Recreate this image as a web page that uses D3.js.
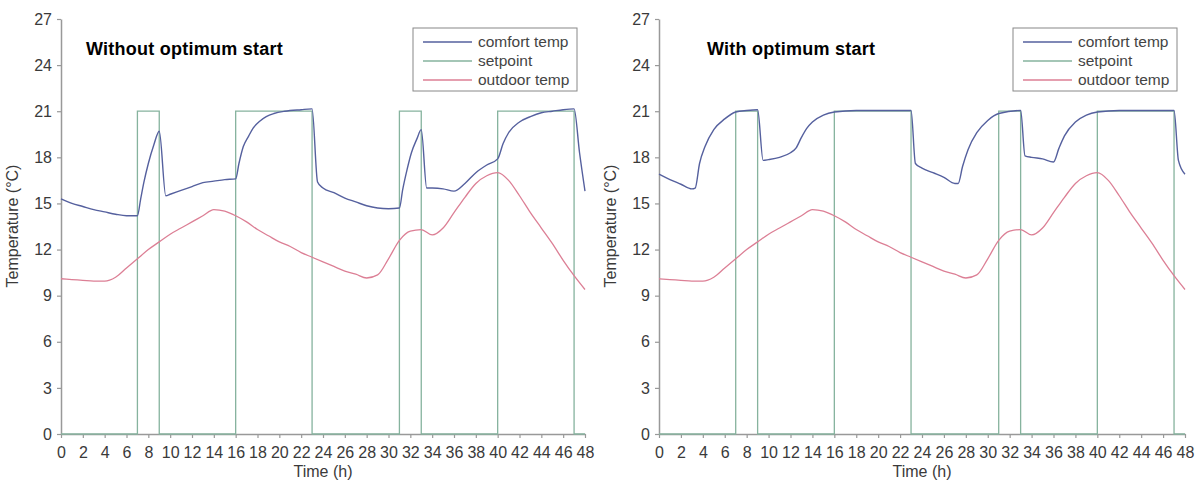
<!doctype html>
<html lang="en">
  <head>
    <meta charset="utf-8">
    <title>Optimum start</title>
    <style>
      body { margin: 0; background: #fff; }
      svg text { font-family: "Liberation Sans", Arial, sans-serif; }
    </style>
  </head>
  <body>
    <div id="chart"></div>
    <script src="https://d3js.org/d3.v7.min.js"></script>
    <script>
    // x ticks (h) and y ticks (°C)
    var timeTicks = [0,2,4,6,8,10,12,14,16,18,20,22,24,26,28,30,32,34,36,38,40,42,44,46,48];
    var tempTicks = [0,3,6,9,12,15,18,21,24,27];

    var seriesNames = ["comfort temp", "setpoint", "outdoor temp"];
    var seriesColors = ["#55609e", "#86b39e", "#dc7f95"];

    // setpoint schedule, same in both runs
    var setpointTime  = [0,7,7,9,9,16,16,23,23,31,31,33,33,40,40,47,47,48];
    var setpointValue = [0,0,21,21,0,0,21,21,0,0,21,21,0,0,21,21,0,0];

    // outdoor temperature, hourly
    var outdoorTime = [0,1,2,3,4,5,6,7,8,9,10,11,12,13,14,15,16,17,18,19,20,21,22,23,24,
                       25,26,27,28,29,30,31,32,33,34,35,36,37,38,39,40,41,42,43,44,45,46,47,48];
    var outdoorTemp = [10.1,10.05,10.0,9.95,9.95,10.2,10.8,11.4,12.0,12.5,13.0,13.4,13.8,14.2,14.6,14.5,14.2,13.8,13.3,12.9,12.5,12.2,11.8,11.5,11.2,
                       10.9,10.6,10.4,10.15,10.35,11.4,12.6,13.2,13.3,12.95,13.4,14.4,15.4,16.3,16.8,17.0,16.5,15.5,14.4,13.4,12.4,11.3,10.3,9.4];

    // comfort temperature without optimum start
    var comfortPlainTime = [0,1,2,3,4,5,6,7,7.3,7.6,8,8.5,9,9.6,10,11,12,13,14,15,16,16.3,16.7,17.2,17.6,18.2,18.8,19.5,20.5,22,23,
                            23.5,24,25,26,27,28,29,30,31,31.3,31.7,32.1,32.6,33,33.5,34,35,36,37,38,39,40,40.5,41,42,43,44,45,46,47,47.5,48];
    var comfortPlain = [15.3,15.0,14.8,14.6,14.45,14.3,14.2,14.2,15.3,16.4,17.6,18.8,19.7,15.5,15.6,15.85,16.1,16.35,16.45,16.55,16.6,17.6,18.7,19.4,19.9,20.35,20.65,20.85,21.0,21.1,21.15,
                        16.4,16.0,15.7,15.35,15.1,14.85,14.7,14.65,14.7,15.9,17.2,18.3,19.2,19.8,16.0,16.0,15.95,15.8,16.3,17.0,17.5,17.9,18.9,19.6,20.3,20.65,20.9,21.0,21.1,21.15,18.3,15.8];

    // comfort temperature with optimum start
    var comfortOptTime = [0,1,2,3,3.3,3.7,4.2,5,6,7,8,9,9.5,10,11,12,12.5,13,13.5,14,15,16,18,23,
                          23.4,24,25,26,27,27.3,27.7,28.2,29,30,31,33,33.4,34,35,36,36.5,37,38,39,40,42,47,47.4,48];
    var comfortOpt = [16.9,16.55,16.25,15.95,16.0,17.6,18.7,19.8,20.5,20.95,21.05,21.1,17.8,17.85,18.0,18.3,18.6,19.3,19.9,20.3,20.75,20.95,21.05,21.05,
                      17.6,17.3,17.0,16.7,16.3,16.3,17.4,18.5,19.6,20.4,20.85,21.05,18.1,18.0,17.9,17.7,18.6,19.4,20.3,20.75,20.95,21.05,21.05,17.8,16.9];

    var svg = d3.select("#chart")
        .append("svg")
        .attr("width", 1204)
        .attr("height", 483);

    function pairs(ts, vs) {
      return ts.map(function(t, i){ return [t, vs[i]]; });
    }

    function drawChart(opts) {
      var x = d3.scaleLinear().domain([0, 48]).range([opts.left, opts.right]);
      var y = d3.scaleLinear().domain([0, 27]).range([434, 19]);
      var g = svg.append("g");

      var xAxis = g.append("g")
          .attr("transform", "translate(0,434)")
          .call(d3.axisBottom(x).tickValues(timeTicks).tickSize(4).tickPadding(9).tickSizeOuter(0));
      var yAxis = g.append("g")
          .attr("transform", "translate(" + opts.left + ",0)")
          .call(d3.axisLeft(y).tickValues(tempTicks).tickSize(4).tickPadding(5).tickSizeOuter(0));

      [xAxis, yAxis].forEach(function(a){
        a.select(".domain").attr("stroke", "#999").attr("stroke-width", 1.5);
        a.selectAll(".tick line").attr("stroke", "#999").attr("stroke-width", 1.2);
        a.selectAll(".tick text")
          .attr("fill", "#3a3a3a")
          .style("font-size", "16px")
          .style("font-family", "'Liberation Sans', Arial, sans-serif");
      });

      var line = d3.line()
          .x(function(d){ return x(d[0]); })
          .y(function(d){ return y(d[1]); });

      g.append("path")
        .datum(pairs(setpointTime, setpointValue))
        .attr("d", line.curve(d3.curveLinear))
        .attr("fill", "none")
        .attr("stroke", seriesColors[1])
        .attr("stroke-width", 1.3);

      g.append("path")
        .datum(pairs(outdoorTime, outdoorTemp))
        .attr("d", line.curve(d3.curveMonotoneX))
        .attr("fill", "none")
        .attr("stroke", seriesColors[2])
        .attr("stroke-width", 1.3);

      g.append("path")
        .datum(pairs(opts.comfortTime, opts.comfort))
        .attr("d", line.curve(d3.curveMonotoneX))
        .attr("fill", "none")
        .attr("stroke", seriesColors[0])
        .attr("stroke-width", 1.4);

      // title
      g.append("text")
        .attr("x", opts.titleX)
        .attr("y", 55)
        .attr("fill", "#000")
        .style("font-size", "18px")
        .style("font-weight", "bold")
        .style("letter-spacing", "0.25px")
        .text(opts.title);

      // axis labels
      g.append("text")
        .attr("x", (opts.left + opts.right) / 2)
        .attr("y", 477)
        .attr("text-anchor", "middle")
        .attr("fill", "#3a3a3a")
        .style("font-size", "16px")
        .text("Time (h)");

      g.append("text")
        .attr("transform", "translate(" + (opts.left - 43) + ",226) rotate(-90)")
        .attr("text-anchor", "middle")
        .attr("fill", "#3a3a3a")
        .style("font-size", "16px")
        .text("Temperature (°C)");

      // legend
      var lg = g.append("g").attr("transform", "translate(" + opts.legendX + ",28)");
      lg.append("rect")
        .attr("width", 164)
        .attr("height", 63)
        .attr("fill", "#fff")
        .attr("stroke", "#888")
        .attr("stroke-width", 1);
      seriesNames.forEach(function(name, i){
        var ly = 14 + i * 19;
        lg.append("line")
          .attr("x1", 10).attr("x2", 59)
          .attr("y1", ly).attr("y2", ly)
          .attr("stroke", seriesColors[i])
          .attr("stroke-width", 1.3);
        lg.append("text")
          .attr("x", 65)
          .attr("y", ly + 5)
          .attr("fill", "#444")
          .style("font-size", "15.5px")
          .text(name);
      });
    }

    drawChart({ left: 61, right: 585, title: "Without optimum start", titleX: 86, legendX: 413,
                comfortTime: comfortPlainTime, comfort: comfortPlain });
    drawChart({ left: 659, right: 1185, title: "With optimum start", titleX: 707, legendX: 1013,
                comfortTime: comfortOptTime, comfort: comfortOpt });
    </script>
  </body>
</html>
